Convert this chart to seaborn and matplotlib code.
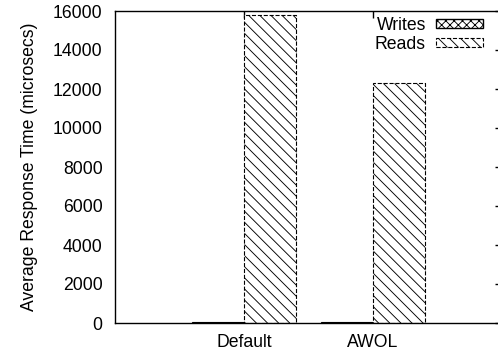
import pandas as pd
import matplotlib
matplotlib.use("Agg")
import matplotlib.pyplot as plt
from matplotlib.patches import Patch
import seaborn as sns

# --- data ---
systems = ["Default", "AWOL"]
ops = ["Writes", "Reads"]
writes_us = [60, 50]
reads_us = [15800, 12300]

sns.set_style("white")
plt.rcParams.update({
    'font.size': 12.7,
    'hatch.linewidth': 0.65,
    'hatch.color': '#222222',
    'text.color': 'black',
    'axes.labelcolor': 'black',
    'xtick.color': 'black',
    'ytick.color': 'black',
})
plt.rcParams['font.family'] = ['Liberation Sans', 'DejaVu Sans']

BS = chr(92)  # backslash for hatch patterns
writes_hatch = 'xxxx'
reads_hatch = BS * 3

df = pd.DataFrame({
    'system': systems * 2,
    'op': [ops[0]] * len(systems) + [ops[1]] * len(systems),
    'us': writes_us + reads_us,
})

fig = plt.figure(figsize=(4.98, 3.54), dpi=100)
ax = fig.add_axes([115 / 498, 1 - 323 / 354, 387 / 498, 312 / 354])

sns.barplot(data=df, x='system', y='us', hue='op', order=systems, hue_order=ops,
            width=0.8, ax=ax, errorbar=None, legend=False)

hatches = [writes_hatch, reads_hatch]
styles = ['-', '--']
for cont, h, ls in zip(ax.containers, hatches, styles):
    for bar in cont:
        bar.set_facecolor('white')
        bar.set_edgecolor('black')
        bar.set_hatch(h)
        bar.set_linestyle(ls)
        bar.set_linewidth(0.8)

ax.set_xlim(-1, 2)
ax.set_ylim(0, 16000)
ax.set_yticks(range(0, 16001, 2000))
ax.set_xlabel('')
ax.set_ylabel('Average Response Time (microsecs)')
ax.yaxis.set_label_coords(-0.199, 0.5)

ax.tick_params(axis='both', direction='in', length=5, width=1,
               top=True, right=True)
ax.tick_params(axis='y', pad=9)
ax.tick_params(axis='x', pad=8)

for side in ['left', 'bottom', 'top', 'right']:
    ax.spines[side].set_visible(True)
    ax.spines[side].set_color('black')
    ax.spines[side].set_linewidth(1.0)

# legend: label first, sample to the right
handles = [
    Patch(facecolor='white', edgecolor='black', hatch=writes_hatch, linewidth=1.0),
    Patch(facecolor='white', edgecolor='black', hatch=reads_hatch, linestyle='--', linewidth=0.8),
]
ax.legend(handles, ops, loc='upper right', frameon=False, markerfirst=False,
          handlelength=2.7, handleheight=0.4, handletextpad=0.55,
          labelspacing=0.1, borderaxespad=0.0, borderpad=0.3,
          bbox_to_anchor=(0.965, 0.998))

fig.savefig('out.png', dpi=100)
